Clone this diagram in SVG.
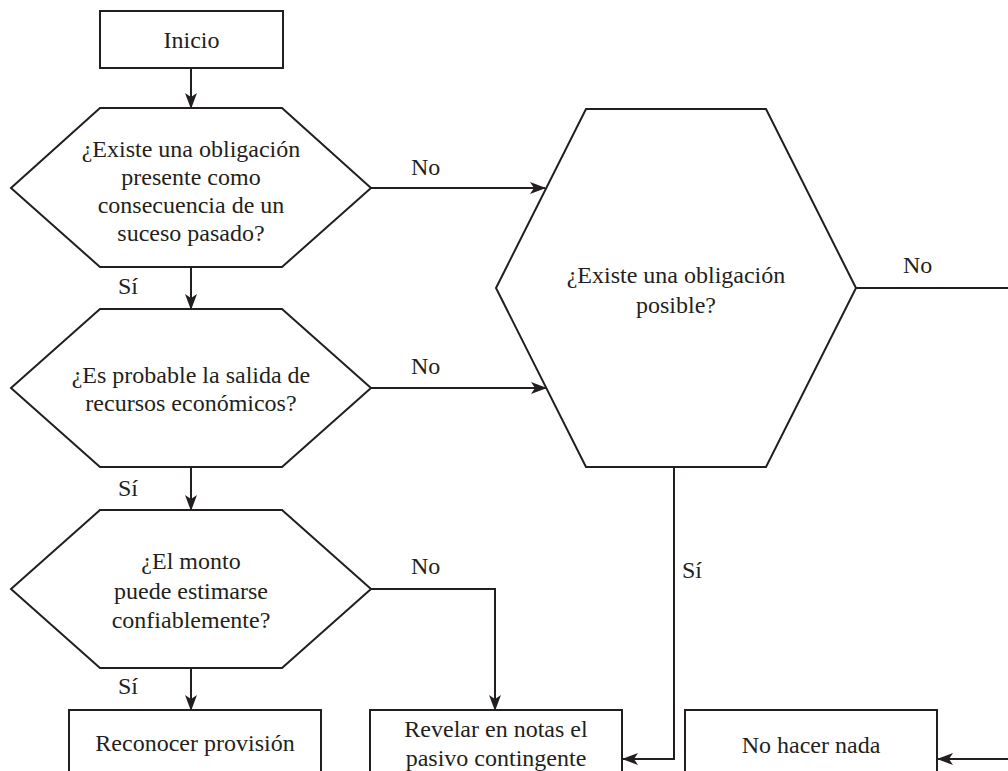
<svg xmlns="http://www.w3.org/2000/svg" width="1008" height="771" viewBox="0 0 1008 771">
  <defs>
    <marker id="arrow" viewBox="0 0 16 12" refX="15" refY="6" markerWidth="16" markerHeight="12" markerUnits="userSpaceOnUse" orient="auto">
      <path d="M0,0 L16,6 L0,12 L4,6 Z" fill="#231f20"/>
    </marker>
  </defs>
  <style>
    .shape { fill: #ffffff; stroke: #231f20; stroke-width: 2; }
    .conn { fill: none; stroke: #231f20; stroke-width: 2; }
    text { font-family: "Liberation Serif", "Times New Roman", serif; font-size: 24px; fill: #231f20; }
    .c { text-anchor: middle; }
  </style>
  <rect width="1008" height="771" fill="#ffffff"/>

  <!-- connectors -->
  <g id="connectors">
    <path class="conn" d="M191,68 V108" marker-end="url(#arrow)"/>
    <path class="conn" d="M191,267 V309" marker-end="url(#arrow)"/>
    <path class="conn" d="M191,467 V510" marker-end="url(#arrow)"/>
    <path class="conn" d="M191,668 V710" marker-end="url(#arrow)"/>
    <path class="conn" d="M371,188 H545" marker-end="url(#arrow)"/>
    <path class="conn" d="M371,388 H546" marker-end="url(#arrow)"/>
    <path class="conn" d="M371,589 H495 V710" marker-end="url(#arrow)"/>
    <path class="conn" d="M674,467 V759 H623" marker-end="url(#arrow)"/>
    <path class="conn" d="M856,288 H1008"/>
    <path class="conn" d="M1008,759 H938" marker-end="url(#arrow)"/>
    <text x="118" y="294">Sí</text>
    <text x="118" y="496">Sí</text>
    <text x="118" y="694">Sí</text>
    <text x="411" y="175">No</text>
    <text x="411" y="374">No</text>
    <text x="411" y="574">No</text>
    <text x="682" y="578">Sí</text>
    <text x="903" y="273">No</text>
  </g>

  <g id="inicio">
    <rect class="shape" x="100" y="11" width="183" height="57"/>
    <text class="c" x="191.5" y="48">Inicio</text>
  </g>

  <g id="q-obligacion-presente">
    <polygon class="shape" points="100,108 282,108 371,188 282,267 100,267 11,188"/>
    <text class="c" x="191" y="157">¿Existe una obligación</text>
    <text class="c" x="191" y="185">presente como</text>
    <text class="c" x="191" y="213">consecuencia de un</text>
    <text class="c" x="191" y="241">suceso pasado?</text>
  </g>

  <g id="q-salida-recursos">
    <polygon class="shape" points="100,309 282,309 371,388 282,467 100,467 11,388"/>
    <text class="c" x="191" y="383">¿Es probable la salida de</text>
    <text class="c" x="191" y="411">recursos económicos?</text>
  </g>

  <g id="q-monto">
    <polygon class="shape" points="100,510 282,510 371,589 282,668 100,668 11,589"/>
    <text class="c" x="191" y="569">¿El monto</text>
    <text class="c" x="191" y="599">puede estimarse</text>
    <text class="c" x="191" y="628">confiablemente?</text>
  </g>

  <g id="q-obligacion-posible">
    <polygon class="shape" points="586,109 766,109 856,288 766,467 586,467 496,288"/>
    <text class="c" x="676" y="283">¿Existe una obligación</text>
    <text class="c" x="676" y="313">posible?</text>
  </g>

  <g id="reconocer">
    <rect class="shape" x="69" y="710" width="252" height="80"/>
    <text class="c" x="195" y="751">Reconocer provisión</text>
  </g>

  <g id="revelar">
    <rect class="shape" x="370" y="710" width="252" height="80"/>
    <text class="c" x="496" y="737">Revelar en notas el</text>
    <text class="c" x="496" y="766">pasivo contingente</text>
  </g>

  <g id="no-hacer-nada">
    <rect class="shape" x="685" y="710" width="252" height="80"/>
    <text class="c" x="811" y="753">No hacer nada</text>
  </g>
</svg>
